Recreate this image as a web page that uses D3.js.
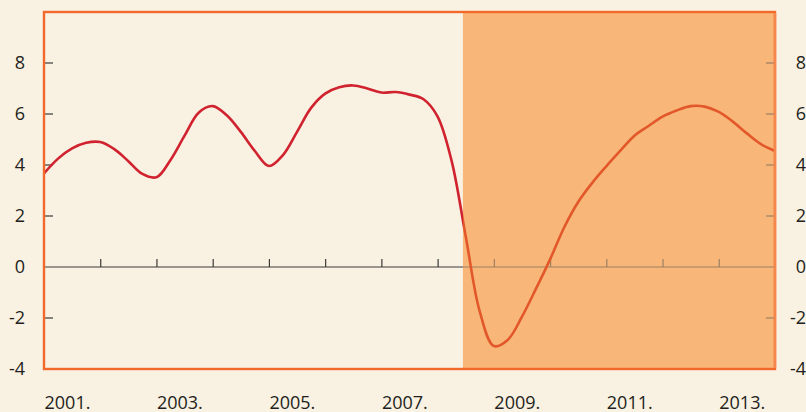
<!DOCTYPE html>
<html>
<head>
<meta charset="utf-8">
<script src="https://cdn.jsdelivr.net/npm/d3@7"></script>
<style>
  body { margin: 0; background: #f9f1e1; }
  svg { display: block; }
  text { font-family: "Open Sans", "Noto Sans", sans-serif; font-size: 18px; fill: #231f20; }
</style>
</head>
<body>
<div id="graph"></div>
<script>
// quarterly values, first one is 2001 Q1
var startYear = 2001;
var values = [
    3.67, 4.25, 4.65, 4.87,   // 2001
    4.90, 4.62, 4.15, 3.65,   // 2002
    3.52, 4.20, 5.15, 6.05,   // 2003
    6.31, 5.95, 5.30, 4.55,   // 2004
    3.96, 4.39, 5.30, 6.24,   // 2005
    6.80, 7.05, 7.12, 7.00,   // 2006
    6.84, 6.86, 6.76, 6.58,   // 2007
    5.90, 4.15, 1.20, -1.75,  // 2008
    -3.10, -2.85, -1.95, -0.85, // 2009
    0.30, 1.55, 2.55, 3.30,   // 2010
    3.95, 4.56, 5.15, 5.53,   // 2011
    5.90, 6.14, 6.31, 6.29,   // 2012
    6.08, 5.70, 5.24, 4.82,   // 2013
    4.55
];
var yearLabels = ["2001.", "2003.", "2005.", "2007.", "2009.", "2011.", "2013."];
var labelYears = [2001, 2003, 2005, 2007, 2009, 2011, 2013];
var yTicks = [-4, -2, 0, 2, 4, 6, 8];
var shadeFrom = 2008.45;

var m = [12, 31, 43, 44]; // top, right, bottom, left
var W = 806, H = 412;
var w = W - m[1] - m[3];
var h = H - m[0] - m[2];

var x = d3.scaleLinear().domain([2001, 2014]).range([0, w]);
var y = d3.scaleLinear().domain([-4, 10]).range([h, 0]);

var svg = d3.select("#graph").append("svg")
    .attr("width", W)
    .attr("height", H);

var graph = svg.append("g")
    .attr("transform", "translate(" + m[3] + "," + m[0] + ")");

// shaded period
graph.append("rect")
    .attr("x", x(shadeFrom))
    .attr("y", 0)
    .attr("width", w - x(shadeFrom))
    .attr("height", h)
    .attr("fill", "#f8b679");

// zero line + year ticks
var xAxis = d3.axisBottom(x)
    .tickValues(d3.range(2002, 2014))
    .tickSize(-8)
    .tickFormat("");
var gx = graph.append("g")
    .attr("class", "x axis")
    .attr("transform", "translate(0," + y(0) + ")")
    .call(xAxis);
gx.select(".domain").remove();
gx.selectAll(".tick line")
    .attr("stroke-width", 1.2)
    .attr("stroke", function(d) { return d > shadeFrom ? "#9c8062" : "#3a3a3a"; });

graph.append("line")
    .attr("x1", 0).attr("x2", x(shadeFrom))
    .attr("y1", y(0)).attr("y2", y(0))
    .attr("stroke", "#3a3a3a").attr("stroke-width", 1);
graph.append("line")
    .attr("x1", x(shadeFrom)).attr("x2", w)
    .attr("y1", y(0)).attr("y2", y(0))
    .attr("stroke", "#9c8062").attr("stroke-width", 1);

// y ticks, left and right
var yInner = yTicks.filter(function(d) { return d != 0 && d != -4; });
graph.selectAll(".ltick")
    .data(yInner)
  .enter().append("line")
    .attr("class", "ltick")
    .attr("x1", 1).attr("x2", 9)
    .attr("y1", function(d) { return y(d); })
    .attr("y2", function(d) { return y(d); })
    .attr("stroke", "#3a3a3a").attr("stroke-width", 1.2);
graph.selectAll(".rtick")
    .data(yInner)
  .enter().append("line")
    .attr("class", "rtick")
    .attr("x1", w - 9).attr("x2", w - 1)
    .attr("y1", function(d) { return y(d); })
    .attr("y2", function(d) { return y(d); })
    .attr("stroke", "#9c8062").attr("stroke-width", 1.2);

var fmt = function(d) { return String(d); }; // plain hyphen minus

var yAxisLeft = d3.axisLeft(y).tickValues(yTicks).tickSize(0).tickPadding(19).tickFormat(fmt);
var gl = graph.append("g").attr("class", "y axis").call(yAxisLeft);
gl.select(".domain").remove();
gl.selectAll("text").style("font-size", "18px");

var yAxisRight = d3.axisRight(y).tickValues(yTicks).tickSize(0).tickPadding(0).tickFormat(fmt);
var gr = graph.append("g")
    .attr("class", "y axis")
    .attr("transform", "translate(" + (W - m[3]) + ",0)")
    .call(yAxisRight);
gr.select(".domain").remove();
gr.selectAll("text").attr("text-anchor", "end").attr("x", 0).style("font-size", "18px");

// year labels start at the year's tick
graph.selectAll(".ylab")
    .data(labelYears)
  .enter().append("text")
    .attr("class", "ylab")
    .attr("x", function(d) { return x(d) + 0.5; })
    .attr("y", h + 40)
    .attr("text-anchor", "start")
    .text(function(d, i) { return yearLabels[i]; });

// line, split in colour at the shaded period
var line = d3.line()
    .x(function(d, i) { return x(startYear + i / 4); })
    .y(function(d) { return y(d); })
    .curve(d3.curveCatmullRom.alpha(0.5));

var defs = svg.append("defs");
defs.append("clipPath").attr("id", "clipL")
    .append("rect").attr("x", -5).attr("y", -5)
    .attr("width", x(shadeFrom) + 5).attr("height", h + 10);
defs.append("clipPath").attr("id", "clipR")
    .append("rect").attr("x", x(shadeFrom)).attr("y", -5)
    .attr("width", w - x(shadeFrom)).attr("height", h + 10);

graph.append("path")
    .attr("clip-path", "url(#clipL)")
    .attr("fill", "none")
    .attr("stroke", "#d0232f")
    .attr("stroke-width", 2.6)
    .attr("stroke-linejoin", "round")
    .attr("d", line(values));
graph.append("path")
    .attr("clip-path", "url(#clipR)")
    .attr("fill", "none")
    .attr("stroke", "#e2582a")
    .attr("stroke-width", 2.6)
    .attr("stroke-linejoin", "round")
    .attr("d", line(values));

// frame
graph.append("rect")
    .attr("x", 0).attr("y", 0)
    .attr("width", w).attr("height", h)
    .attr("fill", "none")
    .attr("stroke", "#f26a2b")
    .attr("stroke-width", 2.4);
graph.append("line")
    .attr("x1", w).attr("x2", w)
    .attr("y1", 1).attr("y2", h - 1)
    .attr("stroke", "#f6874c")
    .attr("stroke-width", 2.4);
</script>
</body>
</html>
